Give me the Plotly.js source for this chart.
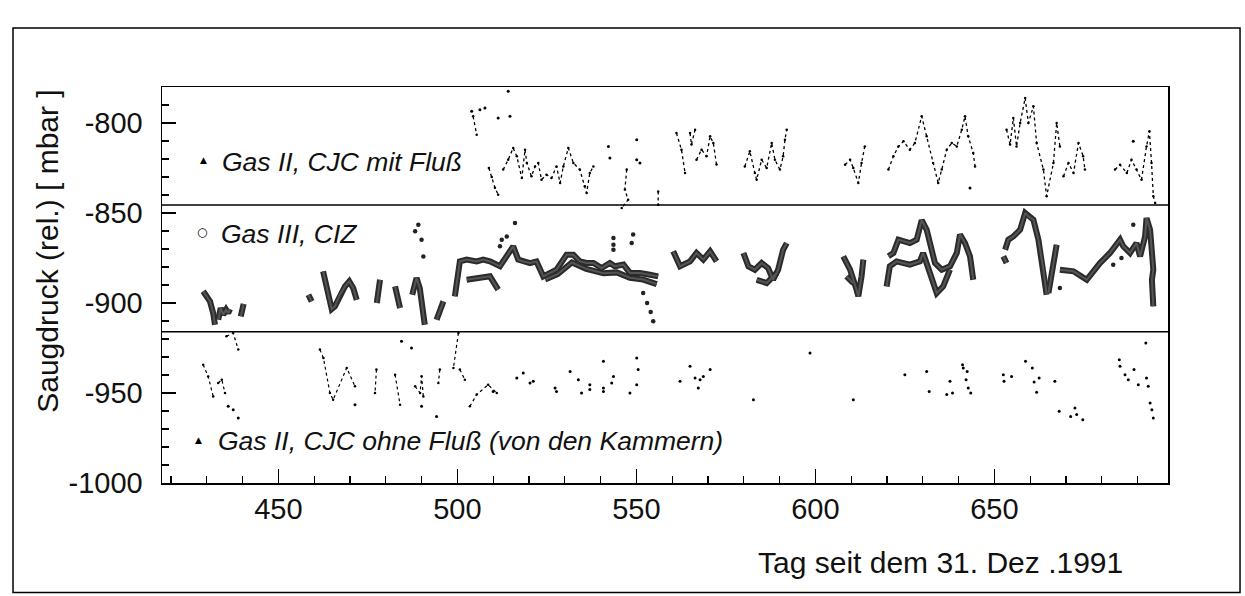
<!DOCTYPE html>
<html>
<head>
<meta charset="utf-8">
<script src="https://cdn.plot.ly/plotly-3.0.1.min.js"></script>
<style>html,body{margin:0;padding:0;background:#fff;}#chart{width:1245px;height:596px;}</style>
</head>
<body>
<div id="chart"></div>
<script>
// ---- Data (day since 31 Dec 1991, relative suction pressure in mbar) ----
// Gas III, CIZ : continuous strokes
const cizLines = [
  [[429.0,-893.5],[430.9,-899.1],[431.8,-905.6],[432.3,-912.1]],
  [[433.2,-909.3],[433.9,-902.8],[434.6,-906.5],[435.4,-903.7],[436.0,-905.6],[436.5,-903.4]],
  [[440.3,-900.5],[439.5,-907.4]],
  [[458.4,-895.4],[459.3,-899.1]],
  [[462.5,-882.4],[463.5,-890.8],[464.9,-903.4],[465.8,-901.9],[467.2,-895.4],[468.6,-890.8],[469.8,-888.0],[470.9,-891.7],[471.9,-898.2]],
  [[478.4,-887.1],[477.5,-900.0]],
  [[482.6,-890.8],[484.0,-902.8]],
  [[487.4,-895.4],[488.6,-886.1],[489.5,-891.7],[490.9,-912.1]],
  [[494.2,-909.3],[496.1,-899.1]],
  [[499.3,-896.3],[500.7,-876.9],[502.6,-875.9],[505.4,-876.9],[507.2,-875.9],[509.1,-876.9],[511.9,-879.6],[513.8,-874.1],[515.6,-868.5],[517.0,-875.9],[518.4,-876.9],[520.3,-877.8],[522.1,-876.9],[524.0,-885.2],[527.7,-881.5],[530.5,-873.2],[532.4,-873.2],[534.2,-876.9],[536.1,-877.8],[538.0,-877.8],[540.3,-880.6],[542.6,-877.8],[544.0,-879.6],[546.4,-878.7],[548.2,-883.3],[551.0,-883.3],[553.8,-884.3],[556.1,-885.2]],
  [[502.6,-887.1],[506.3,-886.1],[509.1,-885.2],[511.4,-892.6]],
  [[524.5,-887.0],[528.0,-884.0],[532.0,-877.5],[536.0,-881.0],[540.8,-883.5],[544.5,-883.0],[548.2,-886.0],[551.9,-887.0],[555.7,-889.5]],
  [[560.3,-871.3],[562.2,-879.6],[565.0,-876.9],[566.8,-872.2],[568.7,-875.9],[570.6,-871.3],[572.4,-876.9]],
  [[579.9,-872.2],[581.3,-879.6],[583.1,-881.5],[585.0,-877.8],[586.8,-880.6],[588.2,-887.1],[589.6,-881.5],[591.0,-870.4],[592.0,-866.7]],
  [[583.6,-887.1],[586.4,-888.9],[589.2,-883.3]],
  [[607.8,-874.1],[609.7,-881.5],[611.5,-892.6],[612.0,-896.3],[612.9,-885.2],[613.4,-875.9]],
  [[608.7,-885.2],[610.6,-888.9]],
  [[620.4,-874.0],[621.8,-872.2],[623.2,-864.8],[626.4,-866.7],[628.3,-864.8],[629.7,-854.0],[631.1,-859.3],[632.0,-866.7],[633.4,-877.8],[635.3,-881.5],[637.6,-879.6],[639.5,-872.2],[640.4,-862.0],[641.8,-866.7],[643.2,-874.1],[644.1,-887.1]],
  [[619.9,-890.8],[620.8,-879.6],[622.7,-876.9],[624.6,-877.8],[626.4,-878.7],[629.2,-876.9],[630.1,-872.2],[632.0,-883.3],[633.9,-894.5],[635.7,-890.8],[637.6,-881.5]],
  [[652.5,-874.1],[653.4,-877.8]],
  [[653.0,-870.4],[653.9,-864.8],[655.3,-863.0],[657.2,-859.3],[658.6,-850.0],[659.5,-851.9],[660.9,-853.7],[662.3,-864.8],[663.7,-881.5],[664.6,-895.4]],
  [[665.1,-894.5],[667.4,-867.6]],
  [[668.3,-881.5],[672.1,-882.4],[675.8,-887.1],[679.5,-877.8],[682.3,-872.2],[685.1,-864.8],[686.0,-868.5],[687.9,-872.2],[689.7,-866.7],[690.7,-874.1],[692.1,-863.0],[692.5,-852.8],[693.5,-859.3],[694.0,-874.0],[694.4,-881.5],[694.0,-887.1],[694.4,-901.9]]
];
// Gas III, CIZ : isolated points
const cizDots = [[488.2,-860.2],[489.1,-856.5],[490.0,-864.8],[490.5,-874.1],[512.4,-864.8],[513.8,-863.0],[511.9,-868.5],[516.1,-855.6],
  [543.6,-863.9],[543.6,-867.6],[543.6,-870.4],[549.1,-862.0],[548.7,-866.7],[551.9,-894.5],[553.0,-900.0],[554.0,-905.0],[554.7,-910.2],
  [668.3,-891.7],[683.2,-878.7],[685.5,-875.0],[688.8,-856.5]];

// Gas II, CJC mit Fluß : dotted strokes
const mitLines = [
  [[504.4,-796.3],[505.4,-806.5]],
  [[508.8,-825.0],[509.6,-830.0],[510.5,-836.0],[511.4,-839.8]],
  [[512.8,-825.9],[514.2,-820.4],[515.6,-813.9],[516.6,-818.5],[518.0,-830.6],[518.9,-814.8],[519.4,-822.2],[520.7,-829.6],[521.7,-824.1],[522.6,-822.2],[523.5,-831.5],[524.9,-828.7],[526.3,-830.6],[527.7,-824.1],[528.7,-833.3],[529.6,-824.1],[531.0,-813.9],[532.4,-822.2],[534.2,-825.9],[535.6,-835.2],[536.1,-838.9],[537.0,-827.8],[538.0,-824.1]],
  [[547.3,-825.9],[546.8,-837.0],[547.7,-842.6],[545.9,-847.2]],
  [[556.1,-838.0],[556.1,-845.4]],
  [[561.2,-805.6],[562.6,-814.8],[563.6,-827.8]],
  [[565.0,-805.6],[565.4,-812.0],[566.4,-803.7]],
  [[566.8,-820.4],[568.2,-814.8],[569.6,-818.5],[570.6,-807.4],[571.5,-811.1],[572.4,-823.1]],
  [[580.3,-824.1],[581.7,-815.7],[583.1,-827.8],[583.6,-831.5],[585.0,-820.4],[586.4,-825.0],[587.8,-811.1],[588.7,-820.4],[590.1,-825.9],[591.0,-818.5],[591.5,-809.3],[592.0,-803.7]],
  [[608.3,-823.2],[609.7,-820.4],[610.6,-825.0],[612.0,-833.3],[612.9,-822.2],[613.8,-813.0]],
  [[620.4,-825.9],[621.8,-818.5],[623.2,-813.0],[624.6,-810.2],[626.4,-814.8],[627.8,-811.1],[629.7,-796.3],[631.1,-807.4],[632.9,-822.2],[634.3,-833.3],[635.3,-825.9],[636.7,-814.8],[638.1,-811.1],[639.5,-813.0],[640.9,-803.7],[641.8,-796.3],[642.7,-807.4],[644.1,-816.7],[644.6,-824.1]],
  [[653.4,-803.7],[654.4,-812.0],[655.3,-797.2],[656.2,-813.0],[657.2,-800.0],[658.6,-786.1],[659.5,-800.0],[660.9,-790.7],[661.8,-811.1],[663.7,-825.9],[664.6,-840.7],[666.5,-822.2],[667.4,-800.0],[668.3,-813.0]],
  [[669.3,-829.6],[670.7,-822.2],[672.1,-827.8],[673.5,-811.1],[674.8,-818.5],[675.3,-825.9]],
  [[683.7,-825.9],[685.1,-823.2],[687.0,-827.8],[688.3,-820.4],[689.7,-825.9],[691.1,-831.5],[692.5,-813.0],[693.3,-804.6],[693.9,-822.2],[694.4,-840.7],[694.9,-844.5]]
];
const mitDots = [[504.0,-793.5],[506.3,-792.6],[507.7,-791.7],[511.4,-797.2],[514.7,-796.3],[514.2,-782.4],
  [542.2,-813.0],[542.6,-819.5],[550.1,-809.3],[550.1,-820.4],[551.0,-822.2],[643.2,-836.1],[688.8,-810.2]];

// Gas II, CJC ohne Fluß (von den Kammern)
const ohneLines = [
  [[429.0,-934.3],[430.4,-940.8],[431.8,-951.9]],
  [[433.2,-944.5],[434.2,-942.6],[435.1,-950.0]],
  [[435.5,-918.5],[437.4,-916.7],[438.8,-925.9]],
  [[461.6,-925.9],[462.6,-930.6],[464.4,-950.0],[465.3,-953.7],[469.1,-936.1],[471.4,-946.3]],
  [[477.4,-937.0],[477.0,-950.0]],
  [[482.6,-939.8],[484.0,-956.5]],
  [[488.2,-946.3],[489.6,-950.0],[490.0,-940.7],[490.5,-951.9]],
  [[495.1,-937.0],[494.7,-944.5]],
  [[500.3,-916.7],[498.9,-936.1]],
  [[500.7,-937.0],[502.1,-942.6]],
  [[503.5,-957.4],[505.4,-950.9],[508.6,-945.4],[511.0,-950.0]]
];
const ohneDots = [[436.0,-957.4],[437.4,-959.3],[438.8,-963.9],[471.4,-956.5],[484.4,-921.3],[487.2,-925.0],[490.0,-957.4],[494.2,-963.0],
  [510.0,-949.1],[516.6,-941.7],[518.4,-938.9],[520.3,-944.5],[521.2,-943.5],[527.3,-947.2],[527.7,-949.1],[531.5,-938.0],[533.8,-942.6],[534.7,-950.0],
  [537.0,-945.4],[537.0,-948.1],[540.8,-932.4],[540.8,-947.2],[540.8,-949.1],[543.6,-940.8],[543.1,-944.5],[548.2,-950.0],[550.1,-945.4],[550.1,-930.6],[550.5,-937.0],
  [562.2,-943.5],[565.0,-935.2],[566.4,-941.7],[567.8,-942.6],[568.7,-940.8],[567.3,-947.2],[570.6,-937.0],[582.7,-953.7],[598.5,-927.8],[610.6,-953.7],
  [625.0,-939.8],[631.1,-938.0],[631.8,-949.1],[636.7,-950.9],[637.6,-943.5],[638.3,-950.0],[641.1,-934.3],[641.3,-936.1],[642.4,-938.0],[642.1,-942.6],[642.7,-947.2],[643.4,-950.0],
  [652.5,-939.8],[652.7,-943.5],[654.8,-940.8],[658.7,-932.4],[660.6,-936.1],[661.1,-943.9],[662.5,-941.7],[661.8,-949.6],[666.9,-943.5],
  [668.1,-960.2],[671.3,-963.0],[672.5,-958.3],[673.0,-962.0],[674.7,-964.8],
  [684.9,-931.5],[685.1,-935.2],[686.5,-939.8],[687.4,-942.6],[689.0,-937.0],[690.2,-945.4],[692.5,-941.7],[693.0,-946.3],[692.3,-922.2],[693.5,-955.6],[694.0,-959.3],[694.4,-963.9]];

// band separators (mbar)
const separators = [-845.5, -916.0];
// axis ticks
const xTickVals = [450, 500, 550, 600, 650];
const yTickVals = [-1000, -950, -900, -850, -800];
const yTickText = ['-1000', '-950', '-900', '-850', '-800'];
// texts
const legendTexts = ['Gas II, CJC mit Fluß', 'Gas III, CIZ', 'Gas II, CJC ohne Fluß (von den Kammern)'];
const xTitle = 'Tag seit dem 31. Dez .1991';
const yTitle = 'Saugdruck (rel.) [ mbar ]';

// ---- helpers ----
function flatten(strokes) {
  const x = [], y = [];
  strokes.forEach((s, i) => {
    if (i > 0) { x.push(null); y.push(null); }
    s.forEach(p => { x.push(p[0]); y.push(p[1]); });
  });
  return {x, y};
}
function cols(pts) { return {x: pts.map(p => p[0]), y: pts.map(p => p[1])}; }

const ciz = flatten(cizLines), cizD = cols(cizDots);
const mit = flatten(mitLines), mitD = cols(mitDots);
const ohne = flatten(ohneLines), ohneD = cols(ohneDots);

const traces = [
  {x: ciz.x, y: ciz.y, mode: 'lines', line: {color: '#2b2b2b', width: 6}, connectgaps: false},
  {x: ciz.x, y: ciz.y, mode: 'lines', line: {color: '#555', width: 2}, connectgaps: false},
  {x: cizD.x, y: cizD.y, mode: 'markers', marker: {color: '#222', size: 4.5}},
  {x: mit.x, y: mit.y, mode: 'lines+markers', line: {color: '#000', width: 1.3, dash: 'dot'}, marker: {color: '#000', size: 2.5}, connectgaps: false},
  {x: mitD.x, y: mitD.y, mode: 'markers', marker: {color: '#000', size: 3}},
  {x: ohne.x, y: ohne.y, mode: 'lines+markers', line: {color: '#000', width: 1.2, dash: 'dot'}, marker: {color: '#000', size: 2.5}, connectgaps: false},
  {x: ohneD.x, y: ohneD.y, mode: 'markers', marker: {color: '#000', size: 3}}
];

const FONT = 'Liberation Sans, Arial, Helvetica, sans-serif';
const axisCommon = {
  showline: true, mirror: true, linecolor: '#000', linewidth: 1.5,
  ticks: 'inside', ticklen: 14, tickwidth: 1.5, tickcolor: '#000',
  showgrid: false, zeroline: false,
  tickfont: {family: FONT, size: 29, color: '#111'},
  minor: {tickmode: 'linear', tick0: 0, dtick: 10, ticks: 'inside', ticklen: 7, tickwidth: 1.2, tickcolor: '#000', showgrid: false}
};

const shapes = separators.map(v => ({type: 'line', xref: 'paper', x0: 0, x1: 1, yref: 'y', y0: v, y1: v, line: {color: '#000', width: 1.5}}));
shapes.push({type: 'rect', xref: 'paper', yref: 'paper', x0: -0.1481, x1: 1.0716, y0: -0.2768, y1: 1.1489, line: {color: '#000', width: 1.5}});

const LF = {family: FONT, size: 26.5, color: '#111'};
const annotations = [
  {xref: 'paper', yref: 'paper', x: 0.0575, y: 0.8115, xanchor: 'left', yanchor: 'middle', showarrow: false, text: '<i>' + legendTexts[0] + '</i>', font: LF},
  {xref: 'paper', yref: 'paper', x: 0.0568, y: 0.629, xanchor: 'left', yanchor: 'middle', showarrow: false, text: '<i>' + legendTexts[1] + '</i>', font: LF},
  {xref: 'paper', yref: 'paper', x: 0.0535, y: 0.105, xanchor: 'left', yanchor: 'middle', showarrow: false, text: '<i>' + legendTexts[2] + '</i>', font: LF},
  {xref: 'paper', yref: 'paper', x: 0.0408, y: 0.816, xanchor: 'center', yanchor: 'middle', showarrow: false, text: '▲', font: {family: 'DejaVu Sans', size: 9, color: '#000'}},
  {xref: 'paper', yref: 'paper', x: 0.0395, y: 0.634, xanchor: 'center', yanchor: 'middle', showarrow: false, text: '○', font: {family: 'DejaVu Sans', size: 12, color: '#000'}},
  {xref: 'paper', yref: 'paper', x: 0.0358, y: 0.1075, xanchor: 'center', yanchor: 'middle', showarrow: false, text: '▲', font: {family: 'DejaVu Sans', size: 9, color: '#000'}},
  {xref: 'paper', yref: 'paper', x: 0.957, y: -0.201, xanchor: 'right', yanchor: 'middle', showarrow: false, text: xTitle, font: {family: FONT, size: 30, color: '#111'}},
  {xref: 'paper', yref: 'paper', x: -0.1135, y: 0.586, xanchor: 'center', yanchor: 'middle', showarrow: false, textangle: -90, text: yTitle, font: {family: FONT, size: 30, color: '#111'}}
];

const layout = {
  width: 1245, height: 596,
  margin: {l: 162, r: 77, t: 87, b: 113, pad: 0},
  paper_bgcolor: '#fff', plot_bgcolor: '#fff',
  showlegend: false,
  font: {family: FONT, color: '#111'},
  xaxis: Object.assign({}, axisCommon, {range: [417.5, 698.5], tickmode: 'array', tickvals: xTickVals, ticklabelstandoff: 0}),
  yaxis: Object.assign({}, axisCommon, {range: [-1000, -780], tickmode: 'array', tickvals: yTickVals, ticktext: yTickText, ticklabelstandoff: 12}),
  shapes: shapes,
  annotations: annotations
};

Plotly.newPlot('chart', traces, layout, {displayModeBar: false, staticPlot: true});
</script>
</body>
</html>
